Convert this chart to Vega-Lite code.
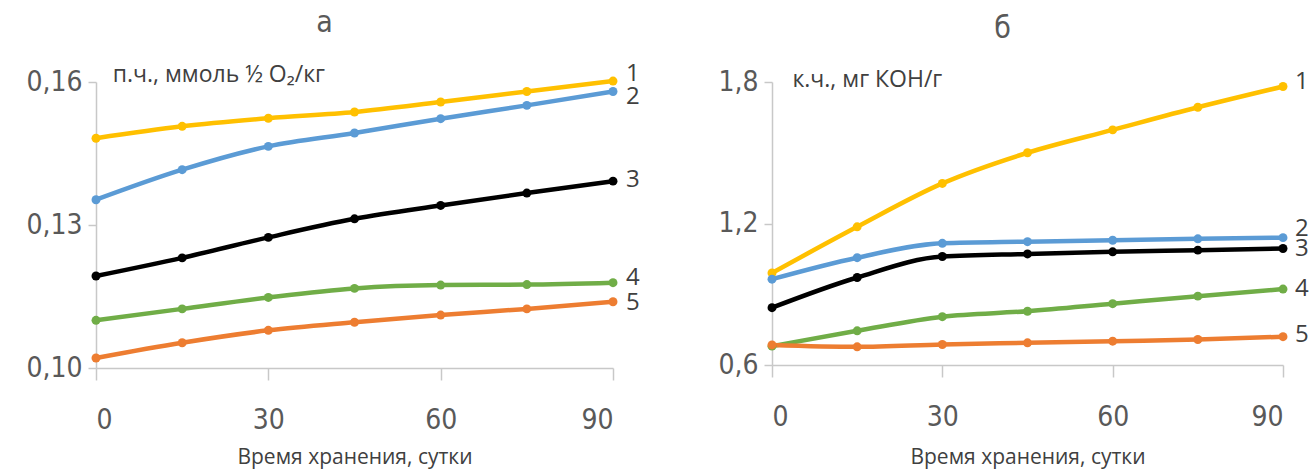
{
  "$schema": "https://vega.github.io/schema/vega-lite/v6.json",
  "background": "white",
  "padding": {"left": 25, "top": 7, "right": 0, "bottom": 40},
  "spacing": 159,
  "bounds": "flush",
  "config": {
    "view": {"stroke": null},
    "axis": {
      "grid": false,
      "domainColor": "#c8c8c8",
      "domainWidth": 1.5,
      "tickColor": "#c8c8c8",
      "tickWidth": 1.5,
      "labelFont": "DejaVu Sans Condensed",
      "labelFontSize": 28,
      "labelColor": "#595959",
      "titleFont": "Open Sans",
      "titleFontSize": 21,
      "titleFontWeight": "normal",
      "titleColor": "#404040"
    },
    "title": {"font": "DejaVu Sans Condensed", "fontSize": 30, "fontWeight": "normal", "color": "#595959", "offset": 24}
  },
  "datasets": {
    "a": [
      {"t": 0, "s": "1", "v": 0.1482}, {"t": 15, "s": "1", "v": 0.1507}, {"t": 30, "s": "1", "v": 0.1524}, {"t": 45, "s": "1", "v": 0.1537}, {"t": 60, "s": "1", "v": 0.1558}, {"t": 75, "s": "1", "v": 0.158}, {"t": 90, "s": "1", "v": 0.1602},
      {"t": 0, "s": "2", "v": 0.1353}, {"t": 15, "s": "2", "v": 0.1416}, {"t": 30, "s": "2", "v": 0.1465}, {"t": 45, "s": "2", "v": 0.1493}, {"t": 60, "s": "2", "v": 0.1523}, {"t": 75, "s": "2", "v": 0.1551}, {"t": 90, "s": "2", "v": 0.158},
      {"t": 0, "s": "3", "v": 0.1193}, {"t": 15, "s": "3", "v": 0.1231}, {"t": 30, "s": "3", "v": 0.1274}, {"t": 45, "s": "3", "v": 0.1313}, {"t": 60, "s": "3", "v": 0.1341}, {"t": 75, "s": "3", "v": 0.1367}, {"t": 90, "s": "3", "v": 0.1392},
      {"t": 0, "s": "4", "v": 0.11}, {"t": 15, "s": "4", "v": 0.1124}, {"t": 30, "s": "4", "v": 0.1148}, {"t": 45, "s": "4", "v": 0.1167}, {"t": 60, "s": "4", "v": 0.1174}, {"t": 75, "s": "4", "v": 0.1175}, {"t": 90, "s": "4", "v": 0.1179},
      {"t": 0, "s": "5", "v": 0.1021}, {"t": 15, "s": "5", "v": 0.1053}, {"t": 30, "s": "5", "v": 0.1079}, {"t": 45, "s": "5", "v": 0.1096}, {"t": 60, "s": "5", "v": 0.1111}, {"t": 75, "s": "5", "v": 0.1124}, {"t": 90, "s": "5", "v": 0.1139}
    ],
    "b": [
      {"t": 0, "s": "1", "v": 0.99}, {"t": 15, "s": "1", "v": 1.186}, {"t": 30, "s": "1", "v": 1.37}, {"t": 45, "s": "1", "v": 1.5}, {"t": 60, "s": "1", "v": 1.597}, {"t": 75, "s": "1", "v": 1.693}, {"t": 90, "s": "1", "v": 1.781},
      {"t": 0, "s": "2", "v": 0.964}, {"t": 15, "s": "2", "v": 1.055}, {"t": 30, "s": "2", "v": 1.116}, {"t": 45, "s": "2", "v": 1.123}, {"t": 60, "s": "2", "v": 1.129}, {"t": 75, "s": "2", "v": 1.135}, {"t": 90, "s": "2", "v": 1.14},
      {"t": 0, "s": "3", "v": 0.843}, {"t": 15, "s": "3", "v": 0.971}, {"t": 30, "s": "3", "v": 1.06}, {"t": 45, "s": "3", "v": 1.071}, {"t": 60, "s": "3", "v": 1.08}, {"t": 75, "s": "3", "v": 1.087}, {"t": 90, "s": "3", "v": 1.094},
      {"t": 0, "s": "4", "v": 0.68}, {"t": 15, "s": "4", "v": 0.745}, {"t": 30, "s": "4", "v": 0.805}, {"t": 45, "s": "4", "v": 0.828}, {"t": 60, "s": "4", "v": 0.86}, {"t": 75, "s": "4", "v": 0.892}, {"t": 90, "s": "4", "v": 0.922},
      {"t": 0, "s": "5", "v": 0.685}, {"t": 15, "s": "5", "v": 0.677}, {"t": 30, "s": "5", "v": 0.687}, {"t": 45, "s": "5", "v": 0.694}, {"t": 60, "s": "5", "v": 0.701}, {"t": 75, "s": "5", "v": 0.708}, {"t": 90, "s": "5", "v": 0.72}
    ],
    "la": [
      {"s": "1", "t": 90, "v": 0.1617}, {"s": "2", "t": 90, "v": 0.1569}, {"s": "3", "t": 90, "v": 0.1394}, {"s": "4", "t": 90, "v": 0.1188}, {"s": "5", "t": 90, "v": 0.1136}
    ],
    "lb": [
      {"s": "1", "t": 90, "v": 1.8}, {"s": "2", "t": 90, "v": 1.176}, {"s": "3", "t": 90, "v": 1.09}, {"s": "4", "t": 90, "v": 0.923}, {"s": "5", "t": 90, "v": 0.729}
    ]
  },
  "hconcat": [
    {
      "width": 517,
      "height": 286,
      "title": {"text": "а", "dx": -30},
      "layer": [
        {
          "data": {"name": "a"},
          "mark": {"type": "line", "interpolate": "monotone", "strokeWidth": 4.5, "clip": false, "point": {"filled": true, "size": 80}},
          "encoding": {
            "x": {"field": "t", "type": "quantitative", "scale": {"domain": [0, 90], "nice": false}, "axis": {"values": [0, 30, 60, 90], "tickSize": 12, "labelPadding": 26, "title": "Время хранения, сутки", "titlePadding": 12}},
            "y": {"field": "v", "type": "quantitative", "scale": {"domain": [0.1, 0.16], "zero": false, "nice": false}, "axis": {"values": [0.1, 0.13, 0.16], "tickSize": 8, "labelPadding": 6, "labelExpr": "replace(format(datum.value, '.2f'), '.', ',')", "title": null}},
            "color": {"field": "s", "type": "nominal", "scale": {"domain": ["1", "2", "3", "4", "5"], "range": ["#FFC000", "#5B9BD5", "#000000", "#70AD47", "#ED7D31"]}, "legend": null}
          }
        },
        {
          "data": {"name": "la"},
          "mark": {"type": "text", "align": "left", "baseline": "middle", "dx": 13, "font": "Open Sans", "fontSize": 24, "color": "#404040"},
          "encoding": {
            "x": {"field": "t", "type": "quantitative"},
            "y": {"field": "v", "type": "quantitative"},
            "text": {"field": "s"}
          }
        },
        {
          "data": {"values": [{"label": "п.ч., ммоль ½ O₂/кг"}]},
          "mark": {"type": "text", "align": "left", "baseline": "middle", "font": "Open Sans", "fontSize": 23, "color": "#404040"},
          "encoding": {
            "x": {"datum": 2.9, "type": "quantitative"},
            "y": {"datum": 0.1614, "type": "quantitative"},
            "text": {"field": "label"}
          }
        }
      ]
    },
    {
      "width": 511,
      "height": 283,
      "title": {"text": "б", "dx": -25},
      "layer": [
        {
          "data": {"name": "b"},
          "mark": {"type": "line", "interpolate": "monotone", "strokeWidth": 4.5, "clip": false, "point": {"filled": true, "size": 80}},
          "encoding": {
            "x": {"field": "t", "type": "quantitative", "scale": {"domain": [0, 90], "nice": false}, "axis": {"values": [0, 30, 60, 90], "tickSize": 12, "labelPadding": 26, "title": "Время хранения, сутки", "titlePadding": 15}},
            "y": {"field": "v", "type": "quantitative", "scale": {"domain": [0.6, 1.8], "zero": false, "nice": false}, "axis": {"values": [0.6, 1.2, 1.8], "tickSize": 8, "labelPadding": 6, "labelExpr": "replace(format(datum.value, '.1f'), '.', ',')", "title": null}},
            "color": {"field": "s", "type": "nominal", "scale": {"domain": ["1", "2", "3", "4", "5"], "range": ["#FFC000", "#5B9BD5", "#000000", "#70AD47", "#ED7D31"]}, "legend": null}
          }
        },
        {
          "data": {"name": "lb"},
          "mark": {"type": "text", "align": "left", "baseline": "middle", "dx": 12, "font": "Open Sans", "fontSize": 24, "color": "#404040"},
          "encoding": {
            "x": {"field": "t", "type": "quantitative"},
            "y": {"field": "v", "type": "quantitative"},
            "text": {"field": "s"}
          }
        },
        {
          "data": {"values": [{"label": "к.ч., мг КОН/г"}]},
          "mark": {"type": "text", "align": "left", "baseline": "middle", "font": "Open Sans", "fontSize": 23, "color": "#404040"},
          "encoding": {
            "x": {"datum": 3.6, "type": "quantitative"},
            "y": {"datum": 1.81, "type": "quantitative"},
            "text": {"field": "label"}
          }
        }
      ]
    }
  ]
}
